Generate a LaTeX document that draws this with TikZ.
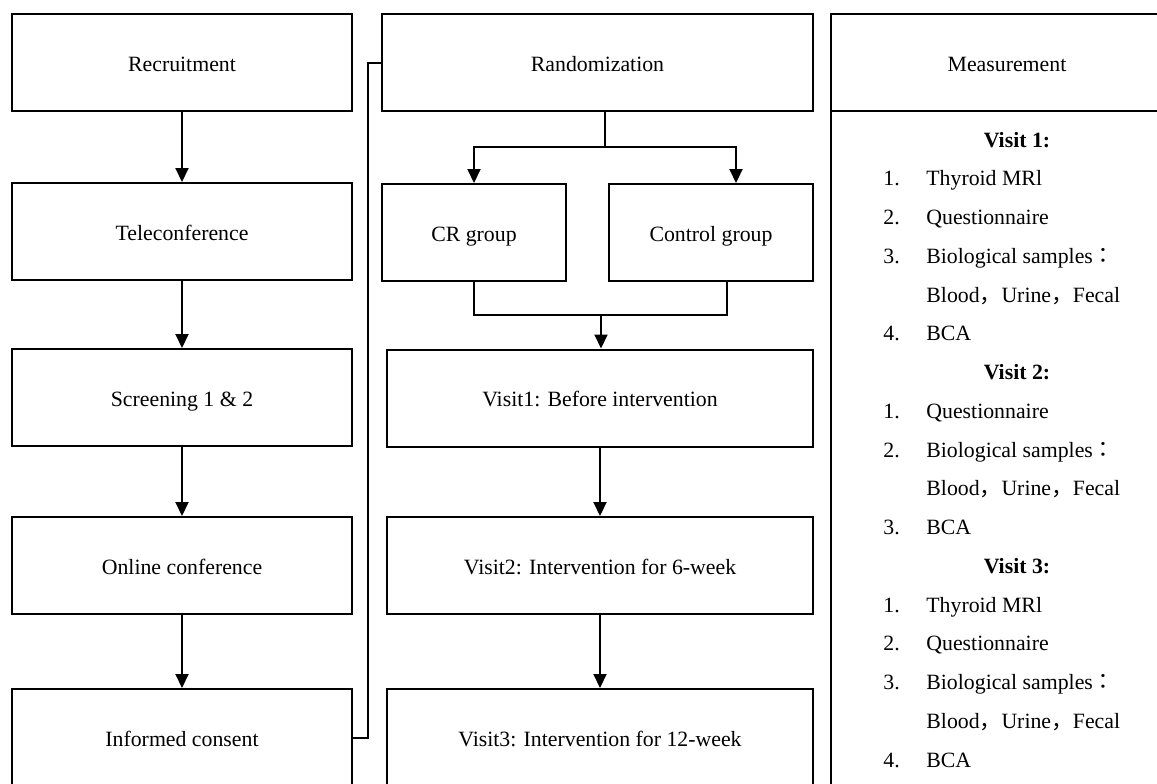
\documentclass[tikz,border=0pt]{standalone}
\usepackage{fontspec}
\setmainfont{Liberation Serif}
\newfontfamily\cjkfont{Noto Sans CJK SC}
\newfontfamily\cjkjpfont{Noto Sans CJK JP}
\usetikzlibrary{arrows.meta}
\newcommand\diagfs{\fontsize{10.9}{13}\selectfont}
\newcommand\fwc{{\cjkfont ，}}
\newcommand\fwcolon{{\cjkjpfont ：}}
\newcommand\num[1]{\makebox[21.5pt][l]{#1}}
\begin{document}
\begin{tikzpicture}[x=0.5pt,y=-0.5pt,
  box/.style={draw, line width=1pt, inner sep=0pt, minimum height=48.5pt, font=\diagfs,
              text height=9.5pt, text depth=0.8pt},
  conn/.style={line width=1pt},
  arr/.style={conn, -{Triangle[width=6.5pt,length=7pt]}},
  item/.style={anchor=base west, inner sep=0pt, font=\diagfs},
  head/.style={anchor=base, inner sep=0pt, font=\diagfs\bfseries}]
\useasboundingbox (0,0) rectangle (1157,783);
\clip (0,0) rectangle (1157,783);

% left column
\node[box, minimum width=170pt] (rec)  at (182,62.5)  {Recruitment};
\node[box, minimum width=170pt] (tele) at (182,231.5) {Teleconference};
\node[box, minimum width=170pt] (scr)  at (182,397.5) {Screening 1 \& 2};
\node[box, minimum width=170pt] (onl)  at (182,565.5) {Online conference};
\node[box, minimum width=170pt] (inf)  at (182,737.5) {Informed consent};

% middle column
\node[box, minimum width=215.5pt] (rand) at (597.5,62.5) {Randomization};
\node[box, minimum width=92pt]  (cr)  at (474,232.5) {CR group};
\node[box, minimum width=102pt] (ctl) at (711,232.5) {Control group};
\node[box, minimum width=213pt] (v1) at (600,398)   {Visit1: Before intervention};
\node[box, minimum width=213pt] (v2) at (600,565.5) {Visit2: Intervention for 6-week};
\node[box, minimum width=213pt] (v3) at (600,737.5) {Visit3: Intervention for 12-week};

% measurement column
\node[box, outer sep=0pt, minimum width=176pt] (meas) at (1007,62.5) {Measurement};
\node[draw, line width=1pt, inner sep=0pt, outer sep=0pt, minimum width=176pt, minimum height=400pt, anchor=north] (mbody) at (meas.south) {};

% left arrows
\draw[arr] (rec.south) -- (tele.north);
\draw[arr] (tele.south) -- (scr.north);
\draw[arr] (scr.south) -- (onl.north);
\draw[arr] (onl.south) -- (inf.north);

% informed consent -> randomization
\coordinate (jog) at (368,0);
\draw[conn] (inf.east) -- (inf.east -| jog) |- (rand.west);

% split
\coordinate (split) at (605,147);
\coordinate (ctlin) at (736,147);
\draw[conn] (split |- rand.south) -- (split);
\draw[arr] (split) -| (cr.north);
\draw[arr] (split) -- (ctlin) -- (ctlin |- ctl.north);

% merge
\coordinate (merge) at (601,315);
\coordinate (ctlout) at (727,0);
\draw[conn] (cr.south) |- (merge);
\draw[conn] (ctlout |- ctl.south) |- (merge);
\draw[arr] (merge) -- (merge |- v1.north);

\draw[arr] (v1.south) -- (v2.north);
\draw[arr] (v2.south) -- (v3.north);

% measurement list
\node[head] (h1) at (1017,147) {Visit 1:};
\node[item] (a1) at (883,185.75) {\num{1.}Thyroid MRl};
\node[item] (a2) at (883,224.5)  {\num{2.}Questionnaire};
\node[item] (a3) at (883,263.25) {\num{3.}Biological samples\fwcolon};
\node[item] (a3b) at (926,302)   {Blood\fwc Urine\fwc Fecal};
\node[item] (a4) at (883,340.75) {\num{4.}BCA};
\node[head] (h2) at (1017,379.5) {Visit 2:};
\node[item] (b1) at (883,418.25) {\num{1.}Questionnaire};
\node[item] (b2) at (883,457)    {\num{2.}Biological samples\fwcolon};
\node[item] (b2b) at (926,495.75) {Blood\fwc Urine\fwc Fecal};
\node[item] (b3) at (883,534.5)  {\num{3.}BCA};
\node[head] (h3) at (1017,573.25) {Visit 3:};
\node[item] (c1) at (883,612)    {\num{1.}Thyroid MRl};
\node[item] (c2) at (883,650.75) {\num{2.}Questionnaire};
\node[item] (c3) at (883,689.5)  {\num{3.}Biological samples\fwcolon};
\node[item] (c3b) at (926,728.25) {Blood\fwc Urine\fwc Fecal};
\node[item] (c4) at (883,767)    {\num{4.}BCA};
\end{tikzpicture}
\end{document}
